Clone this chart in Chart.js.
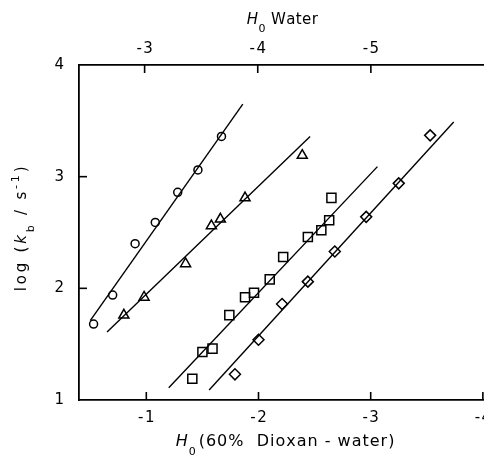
<!DOCTYPE html>
<html><head><meta charset="utf-8">
<script src="https://cdn.jsdelivr.net/npm/chart.js@4"></script>
<style>html,body{margin:0;padding:0;background:#fff;overflow:hidden}</style>
</head><body>
<canvas id="c" width="484" height="461"></canvas>
<script>
// ---- data ----
const circleX = [-0.53, -0.70, -0.90, -1.08, -1.28, -1.46, -1.67];
const circleY = [1.68, 1.94, 2.40, 2.59, 2.86, 3.06, 3.36];
const triX = [-0.80, -0.98, -1.35, -1.58, -1.66, -1.88, -2.39];
const triY = [1.76, 1.92, 2.22, 2.56, 2.62, 2.81, 3.19];
const sqX = [-1.41, -1.50, -1.59, -1.74, -1.88, -1.96, -2.10, -2.22, -2.44, -2.56, -2.63, -2.65];
const sqY = [1.19, 1.43, 1.46, 1.76, 1.92, 1.96, 2.08, 2.28, 2.46, 2.52, 2.61, 2.81];
const diaX = [-1.79, -2.00, -2.21, -2.44, -2.68, -2.96, -3.25, -3.53];
const diaY = [1.23, 1.54, 1.86, 2.06, 2.33, 2.64, 2.94, 3.37];

const circleFitX = [-0.50, -1.86], circleFitY = [1.71, 3.65];
const triFitX = [-0.65, -2.46], triFitY = [1.61, 3.36];
const sqFitX = [-1.20, -3.06], sqFitY = [1.11, 3.09];
const diaFitX = [-1.56, -3.74], diaFitY = [1.09, 3.49];

const bottomTicks = [-1, -2, -3, -4];
const topTicks = [-3, -4, -5];
const yTicks = [1, 2, 3, 4];

const FONT = '"DejaVu Sans", sans-serif';
const pts = (xs, ys) => xs.map((x, i) => ({x: x, y: ys[i]}));

function markerSet(xs, ys, style, r) {
  return {data: pts(xs, ys), pointStyle: style, pointRadius: r, pointHoverRadius: r,
    borderColor: '#000', backgroundColor: 'rgba(0,0,0,0)', pointBorderWidth: 1.5, showLine: false};
}
function fitSet(xs, ys) {
  return {data: pts(xs, ys), showLine: true, pointRadius: 0, borderColor: '#000', borderWidth: 1.4, fill: false};
}
const negLabel = v => '-\u200A' + Math.abs(v);

// rich text helper: segments drawn char by char with spacing
function richText(ctx, segs, cx, cy, spacing, rotate) {
  ctx.save();
  ctx.translate(cx, cy);
  if (rotate) ctx.rotate(-Math.PI / 2);
  ctx.textBaseline = 'alphabetic';
  ctx.fillStyle = '#000';
  let total = 0;
  segs.forEach(s => { ctx.font = s.font; for (const ch of s.t) total += ctx.measureText(ch).width + (s.sp ?? spacing); });
  let x = -total / 2;
  segs.forEach(s => {
    ctx.font = s.font;
    for (const ch of s.t) { ctx.fillText(ch, x, s.dy || 0); x += ctx.measureText(ch).width + (s.sp ?? spacing); }
  });
  ctx.restore();
}

const decor = {
  id: 'decor',
  afterDraw(chart) {
    const ctx = chart.ctx, a = chart.chartArea, L = 8;
    const sx = chart.scales.x, sx2 = chart.scales.x2, sy = chart.scales.y;
    ctx.save();
    ctx.strokeStyle = '#000'; ctx.lineWidth = 1.6;
    const line = (x1, y1, x2, y2) => { ctx.beginPath(); ctx.moveTo(x1, y1); ctx.lineTo(x2, y2); ctx.stroke(); };
    sx.ticks.forEach(t => { const p = sx.getPixelForValue(t.value); line(p, a.bottom, p, a.bottom - L); });
    sx2.ticks.forEach(t => { const p = sx2.getPixelForValue(t.value); line(p, a.top, p, a.top + L); });
    sy.ticks.forEach(t => { if (t.value === 1 || t.value === 4) return; const p = sy.getPixelForValue(t.value); line(a.left, p, a.left + L, p); });
    ctx.restore();
    const cx = (a.left + 484) / 2;
    // top title
    richText(ctx, [
      {t: 'H', font: 'italic 15px ' + FONT},
      {t: '0', font: '11px ' + FONT, dy: 8},
      {t: ' Water', font: '15px ' + FONT}
    ], cx + 1, a.top - 41, 0.4, false);
    // bottom title
    richText(ctx, [
      {t: 'H', font: 'italic 16px ' + FONT},
      {t: '0', font: '11px ' + FONT, dy: 9, sp: 3},
      {t: '(60%  Dioxan - water)', font: '16px ' + FONT}
    ], cx + 4, a.bottom + 46, 1.0, false);
    // y title
    richText(ctx, [
      {t: 'log (', font: '15px ' + FONT},
      {t: 'k', font: 'italic 15px ' + FONT},
      {t: 'b', font: '11px ' + FONT, dy: 8},
      {t: ' / s', font: '15px ' + FONT},
      {t: '-1', font: '11px ' + FONT, dy: -7},
      {t: ')', font: '15px ' + FONT}
    ], 26, (a.top + a.bottom) / 2 - 5, 2.8, true);
  }
};

new Chart(document.getElementById('c'), {
  type: 'scatter',
  data: {datasets: [
    fitSet(circleFitX, circleFitY),
    fitSet(triFitX, triFitY),
    fitSet(sqFitX, sqFitY),
    fitSet(diaFitX, diaFitY),
    markerSet(circleX, circleY, 'circle', 4),
    markerSet(triX, triY, 'triangle', 5.8),
    markerSet(sqX, sqY, 'rect', 6.4),
    markerSet(diaX, diaY, 'rectRot', 5.5)
  ]},
  options: {
    responsive: false, animation: false, devicePixelRatio: 1,
    layout: {padding: 0, autoPadding: false},
    plugins: {legend: {display: false}, tooltip: {enabled: false}},
    scales: {
      x: {
        type: 'linear', position: 'bottom', reverse: true, min: -4.01, max: -0.40,
        afterBuildTicks: s => { s.ticks = bottomTicks.map(v => ({value: v})); },
        afterFit: s => { s.height = 61; s.paddingLeft = 0; s.paddingRight = 0; },
        ticks: {callback: negLabel, color: '#000', font: {family: FONT, size: 15}, padding: 9, maxRotation: 0, autoSkip: false},
        grid: {display: true, drawOnChartArea: false, drawTicks: false},
        border: {display: true, color: '#000', width: 1.8}
      },
      x2: {
        type: 'linear', position: 'top', reverse: true, min: -6.0, max: -2.42,
        afterBuildTicks: s => { s.ticks = topTicks.map(v => ({value: v})); },
        afterFit: s => { s.height = 65; s.paddingLeft = 0; s.paddingRight = 0; },
        ticks: {callback: negLabel, color: '#000', font: {family: FONT, size: 15}, padding: 7, maxRotation: 0, autoSkip: false},
        grid: {display: true, drawOnChartArea: false, drawTicks: false},
        border: {display: true, color: '#000', width: 1.8}
      },
      y: {
        type: 'linear', position: 'left', min: 1, max: 4,
        afterBuildTicks: s => { s.ticks = yTicks.map(v => ({value: v})); },
        afterFit: s => { s.width = 79; s.paddingTop = 0; s.paddingBottom = 0; },
        ticks: {color: '#000', font: {family: FONT, size: 15}, padding: 15},
        grid: {display: true, drawOnChartArea: false, drawTicks: false},
        border: {display: true, color: '#000', width: 1.8}
      }
    }
  },
  plugins: [decor]
});
</script>
</body></html>
